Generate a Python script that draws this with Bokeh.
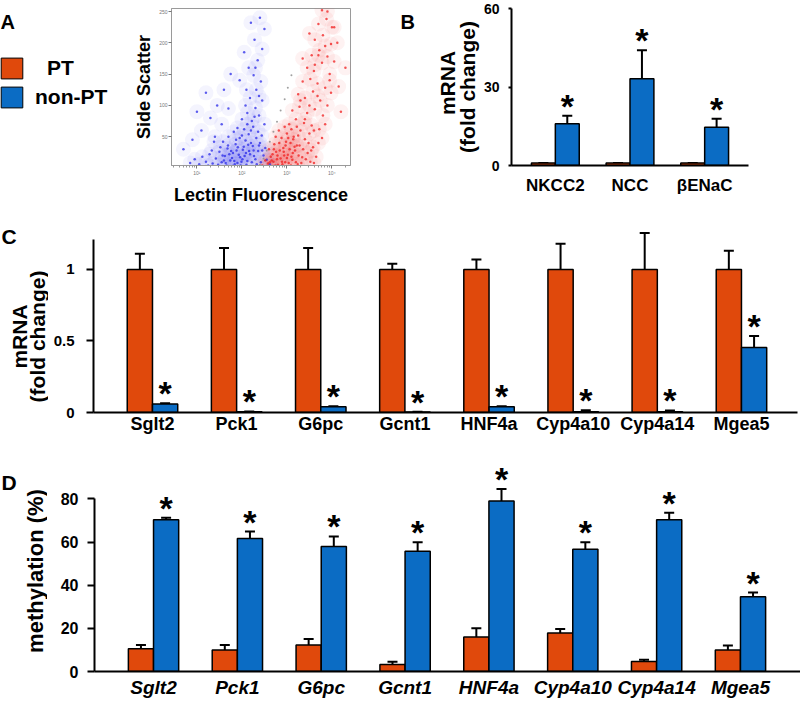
import numpy as np
from bokeh.plotting import figure
from bokeh.layouts import column, row
from bokeh.models import (ColumnDataSource, Range1d, FixedTicker, Label, Legend,
                          LegendItem, Whisker, TeeHead)
from bokeh.core.properties import value
from bokeh.embed import file_html
from bokeh.resources import INLINE

FONT = "Liberation Sans"
ORANGE = "#E0490C"
BLUE = "#0B6CC4"

# ---------------- data ----------------
legend_labels = ["PT", "non-PT"]
legend_proxy = [0]

# panel A: flow cytometry dot plot (log10 lectin fluorescence, side scatter x1000)
blue_log_fl = [0.85, 0.95, 1.05, 1.12, 1.2, 1.28, 1.35, 1.42, 1.5, 1.55, 1.62, 1.68, 1.74, 1.8,
               1.86, 1.9, 1.96, 2.02, 2.08, 2.12, 2.18, 2.24, 2.3, 2.36, 2.42, 2.48, 2.55, 2.62,
               1.7, 1.82, 1.95, 2.05, 2.15, 2.25, 2.32, 1.58, 2.4,
               2.0, 2.12, 2.22, 2.3, 2.38, 2.45, 2.18, 2.32, 2.42, 2.26, 2.5, 2.08,
               2.15, 2.35, 2.45, 2.28, 2.5, 2.05, 2.4, 2.2, 1.95,
               0.7, 0.9, 1.1, 1.3, 1.45, 1.6, 1.75, 1.2, 1.0, 1.55, 1.4, 1.7,
               1.33, 1.47, 1.52, 1.6, 1.66, 1.72, 1.78, 1.84, 1.88, 1.93, 1.99, 2.04, 2.1, 2.16,
               2.2, 2.27, 2.33, 2.38, 2.45, 2.52, 1.25, 1.38, 2.0, 2.12, 2.28, 2.2, 2.36, 1.9,
               2.44, 2.3, 2.38, 2.1,
               1.64, 1.76, 1.83, 1.91, 1.97, 2.06, 2.14, 2.22, 1.69, 1.87, 2.01, 2.09, 1.79,
               2.26, 1.57]
blue_ssc = [8, 14, 6, 18, 10, 22, 7, 15, 26, 9, 19, 31, 12, 24,
            38, 8, 17, 29, 44, 11, 22, 35, 14, 27, 9, 20, 13, 6,
            50, 58, 48, 62, 54, 66, 48, 42, 40,
            78, 88, 75, 96, 84, 108, 112, 125, 138, 148, 70, 100,
            160, 172, 190, 205, 222, 185, 240, 232, 140,
            30, 45, 60, 80, 100, 125, 150, 120, 90, 70, 50, 95,
            28, 5, 33, 12, 4, 22, 16, 6, 28, 21, 10, 34, 5, 27,
            40, 19, 6, 36, 28, 32, 4, 42, 52, 70, 82, 60, 58, 64,
            52, 160, 115, 125,
            8, 27, 11, 33, 4, 19, 37, 9, 36, 45, 14, 24, 3, 28, 20]
red_log_fl = [2.45, 2.52, 2.58, 2.64, 2.7, 2.76, 2.8, 2.86, 2.92, 2.96, 3.02, 3.08, 3.12, 3.18,
              3.24, 3.28, 3.34, 3.4, 3.46, 3.52, 3.58, 2.72, 2.88, 3.0, 3.15, 3.3, 3.5, 2.6,
              3.65, 3.7,
              3.05, 3.2, 3.38, 3.55, 3.72, 3.12, 3.28, 3.45, 3.62, 3.8, 3.25, 3.4, 3.58, 3.74,
              3.9, 3.35, 3.52, 3.68, 3.85, 3.98,
              3.45, 3.6, 3.78, 3.95, 3.55, 3.72, 3.9, 4.05, 3.62, 3.8, 3.98, 3.7, 3.88, 4.05,
              3.78, 3.5, 4.12, 3.35,
              4.15, 4.2, 4.3, 3.9,
              2.55, 2.62, 2.68, 2.74, 2.78, 2.84, 2.9, 2.94, 2.98, 3.04, 3.06, 3.1, 3.14, 3.2,
              3.22, 3.26, 3.32, 3.36, 3.42, 3.48, 3.54, 3.6, 2.82, 2.95, 3.1, 3.22, 3.4, 3.6,
              3.78, 3.85, 3.3, 3.5, 3.68, 3.95, 3.62, 3.85, 4.0, 3.7,
              2.66, 2.71, 2.79, 2.83, 2.89, 2.93, 3.0, 3.03, 3.09, 3.13, 2.75, 2.97, 3.17,
              2.69, 3.25]
red_ssc = [4, 12, 7, 18, 10, 26, 5, 15, 32, 9, 21, 40, 13, 28,
           6, 36, 17, 46, 24, 10, 33, 38, 48, 55, 50, 60, 55, 30,
           18, 40,
           70, 78, 72, 68, 62, 92, 98, 88, 94, 84, 118, 112, 122, 108,
           100, 138, 142, 135, 128, 120,
           160, 155, 168, 150, 180, 188, 178, 170, 205, 212, 198, 230, 238, 225,
           252, 215, 200, 175,
           130, 90, 160, 250,
           3, 9, 22, 4, 14, 28, 6, 20, 42, 8, 30, 18, 46, 9,
           36, 20, 8, 30, 14, 40, 28, 8, 60, 66, 62, 66, 78, 60,
           48, 70, 108, 100, 115, 140, 165, 195, 225, 180,
           12, 30, 20, 40, 10, 26, 16, 48, 4, 24, 50, 36, 34, 3, 52]
gate_log_fl = [2.4, 2.48, 2.55, 2.62, 2.7, 2.78, 2.86, 2.95, 3.02, 3.1]
gate_ssc = [5, 15, 28, 42, 58, 74, 92, 110, 128, 148]
fl_ticks = [10, 100, 1000, 10000]
fl_tick_labels = ["10\u00b9", "10\u00b2", "10\u00b3", "10\u2074"]
ssc_ticks = [50, 100, 150, 200, 250]
ssc_tick_labels = ["50", "100", "150", "200", "250"]

# panel B
genes_b = ["NKCC2", "NCC", "\u03b2ENaC"]
pt_b = [1.0, 1.0, 1.0]
pt_b_err = [0.0, 0.0, 0.0]
nonpt_b = [16.0, 33.2, 14.6]
nonpt_b_err = [3.0, 10.8, 3.3]
yticks_b = [0, 30, 60]

# panel C
genes = ["Sglt2", "Pck1", "G6pc", "Gcnt1", "HNF4a", "Cyp4a10", "Cyp4a14", "Mgea5"]
pt_c = [1.0, 1.0, 1.0, 1.0, 1.0, 1.0, 1.0, 1.0]
pt_c_err = [0.11, 0.15, 0.15, 0.04, 0.07, 0.18, 0.255, 0.13]
nonpt_c = [0.06, 0.005, 0.04, 0.004, 0.04, 0.006, 0.006, 0.455]
nonpt_c_err = [0.005, 0.002, 0.003, 0.002, 0.003, 0.01, 0.008, 0.08]
yticks_c = [0, 0.5, 1]
ytick_labels_c = ["0", "0.5", "1"]

# panel D
pt_d = [10.5, 10.0, 12.3, 3.3, 16.0, 17.8, 4.6, 10.0]
pt_d_err = [1.8, 2.3, 2.8, 1.2, 4.0, 1.9, 0.9, 2.0]
nonpt_d = [70.4, 61.7, 58.0, 55.8, 79.1, 56.7, 70.4, 34.7]
nonpt_d_err = [0.9, 3.2, 4.6, 4.1, 5.5, 3.2, 3.2, 1.9]
yticks_d = [0, 20, 40, 60, 80]

STAR = "*"

# frame borders (top, bottom) shared by every figure of a row
ROW1 = (8, 41)
ROW2 = (19, 28)
ROW3 = (22, 26)


def text_fig(width, height, borders):
    top, bottom = borders
    p = figure(width=width, height=height, x_range=Range1d(0, 1), y_range=Range1d(0, 1),
               x_axis_location=None, y_axis_location=None, min_border=0,
               min_border_top=top, min_border_bottom=bottom,
               output_backend="svg", toolbar_location=None)
    p.outline_line_color = None
    p.grid.visible = False
    return p


def add_label(p, text, sx, sy, size, angle=0, baseline="alphabetic", align="left"):
    p.add_layout(Label(x=sx, y=sy, x_units="screen", y_units="screen", text=text,
                       angle=angle, angle_units="deg",
                       text_font=FONT, text_font_style="bold", text_font_size=size,
                       text_baseline=baseline, text_align=align, text_color="black"))


def bar_panel(width, height, borders, xr, yr, ybounds, names, pt, pt_err, npt, npt_err,
              bw, yticks, ytick_labels, ytick_size, xlabel_size, xlabel_style,
              xlabel_standoff, tick_out, label_standoff, star_offset):
    left, right, top, bottom = borders
    p = figure(width=width, height=height, x_range=Range1d(*xr), y_range=Range1d(*yr),
               output_backend="svg", toolbar_location=None,
               min_border_left=left, min_border_right=right,
               min_border_top=top, min_border_bottom=bottom)
    idx = list(range(len(names)))
    x_pt = [i - bw / 2 for i in idx]
    x_np = [i + bw / 2 for i in idx]
    p.vbar(x=x_pt, top=pt, bottom=0, width=bw, fill_color=ORANGE, line_color="black", line_width=1.5)
    p.vbar(x=x_np, top=npt, bottom=0, width=bw, fill_color=BLUE, line_color="black", line_width=1.5)
    for xs, v, e in [(x_pt, pt, pt_err), (x_np, npt, npt_err)]:
        src = ColumnDataSource(dict(x=xs, lo=v, hi=[a + b for a, b in zip(v, e)]))
        p.add_layout(Whisker(source=src, base="x", lower="lo", upper="hi",
                             line_width=2, line_color="black",
                             upper_head=TeeHead(size=10, line_width=2, line_color="black"),
                             lower_head=None))
    hi_np = [a + b for a, b in zip(npt, npt_err)]
    p.text(x=x_np, y=hi_np, text=[STAR] * len(names), text_font=value(FONT),
           text_font_style="bold", text_font_size="34px", text_align="center",
           text_baseline="alphabetic", y_offset=star_offset, text_color="black")
    p.xgrid.visible = False
    p.ygrid.visible = False
    p.outline_line_color = None
    xa = p.xaxis[0]
    xa.ticker = FixedTicker(ticks=idx)
    xa.major_label_overrides = {i: n for i, n in zip(idx, names)}
    xa.major_tick_line_color = None
    xa.minor_tick_line_color = None
    xa.major_tick_out = 0
    xa.major_tick_in = 0
    xa.axis_line_width = 2
    xa.major_label_text_font = FONT
    xa.major_label_text_font_style = xlabel_style
    xa.major_label_text_font_size = xlabel_size
    xa.major_label_text_color = "black"
    xa.major_label_standoff = xlabel_standoff
    ya = p.yaxis[0]
    ya.ticker = FixedTicker(ticks=yticks)
    ya.major_label_overrides = {t: l for t, l in zip(yticks, ytick_labels)}
    ya.bounds = ybounds
    ya.minor_tick_line_color = None
    ya.major_tick_in = 0
    ya.major_tick_out = tick_out
    ya.major_tick_line_width = 2
    ya.axis_line_width = 2
    ya.major_label_text_font = FONT
    ya.major_label_text_font_style = "bold"
    ya.major_label_text_font_size = ytick_size
    ya.major_label_text_color = "black"
    ya.major_label_standoff = label_standoff
    return p


# ---------------- row 1: panel A ----------------
pa_left = text_fig(131, 207, ROW1)
r_pt = pa_left.vbar(x=legend_proxy, top=legend_proxy, width=0, fill_color=ORANGE,
                    line_color="black", line_width=1)
r_np = pa_left.vbar(x=legend_proxy, top=legend_proxy, width=0, fill_color=BLUE,
                    line_color="black", line_width=1)
for lab, rend, vy, standoff in [(legend_labels[0], r_pt, 83.6, 22),
                                (legend_labels[1], r_np, 54.6, 10)]:
    pa_left.add_layout(Legend(items=[LegendItem(label=lab, renderers=[rend])],
                              location=(-2, vy), glyph_width=27, glyph_height=26,
                              label_height=26, spacing=0, padding=0, margin=0,
                              label_standoff=standoff, label_text_font=FONT,
                              label_text_font_style="bold", label_text_font_size="21px",
                              label_text_color="black",
                              border_line_color=None, background_fill_alpha=0))
add_label(pa_left, "A", 0, 144, "20px")

pa = figure(width=269, height=207, x_axis_type="log",
            x_range=Range1d(10 ** 0.435, 10 ** 4.413), y_range=Range1d(3.97, 254.8),
            output_backend="svg", toolbar_location=None,
            min_border_left=35, min_border_right=50,
            min_border_top=ROW1[0], min_border_bottom=ROW1[1])
pa.xgrid.visible = False
pa.ygrid.visible = False
pa.outline_line_color = "#9a9a9a"
pa.outline_line_width = 1
blue_fl = np.power(10.0, blue_log_fl)
red_fl = np.power(10.0, red_log_fl)
gate_fl = np.power(10.0, gate_log_fl)
pa.scatter(blue_fl, blue_ssc, size=15, fill_color="#2a2ae8", fill_alpha=0.05, line_color=None)
pa.scatter(red_fl, red_ssc, size=15, fill_color="#f01e1e", fill_alpha=0.06, line_color=None)
pa.scatter(blue_fl, blue_ssc, size=2.5, fill_color="#2a2ae8", fill_alpha=0.75, line_color=None)
pa.scatter(red_fl, red_ssc, size=2.5, fill_color="#f01e1e", fill_alpha=0.75, line_color=None)
pa.scatter(gate_fl, gate_ssc, size=2, fill_color="#888888", fill_alpha=0.8, line_color=None)
xa = pa.xaxis[0]
xa.ticker = FixedTicker(ticks=fl_ticks,
                        minor_ticks=[m * d for d in [1, 10, 100, 1000, 10000] for m in range(2, 10)])
xa.major_label_overrides = {t: l for t, l in zip(fl_ticks, fl_tick_labels)}
ya = pa.yaxis[0]
ya.ticker = FixedTicker(ticks=ssc_ticks)
ya.major_label_overrides = {t: l for t, l in zip(ssc_ticks, ssc_tick_labels)}
for ax in (xa, ya):
    ax.axis_line_color = "#9a9a9a"
    ax.major_tick_line_color = "#777777"
    ax.minor_tick_line_color = "#999999"
    ax.major_tick_out = 3
    ax.major_tick_in = 0
    ax.minor_tick_out = 2
    ax.minor_tick_in = 0
    ax.major_label_text_font_size = "5px"
    ax.major_label_text_color = "#777777"
    ax.major_label_standoff = 1
    ax.axis_label_text_font = FONT
    ax.axis_label_text_font_style = "bold"
    ax.axis_label_text_font_size = "18px"
    ax.axis_label_text_color = "black"
ya.minor_tick_line_color = None
xa.axis_label = "Lectin Fluorescence"
xa.axis_label_standoff = 6
ya.axis_label = "Side Scatter"
ya.axis_label_standoff = 2

# ---------------- row 1: panel B ----------------
pb_left = text_fig(80, 207, ROW1)
add_label(pb_left, "B", 0, 144, "20px")
add_label(pb_left, "mRNA", 46.5, 82.5, "21px", angle=90, baseline="middle", align="center")
add_label(pb_left, "(fold change)", 66.5, 78.5, "21px", angle=90, baseline="middle", align="center")

pb = bar_panel(320, 207, (30, 52) + ROW1, (-0.587, 2.587), (0, 60), (0, 60),
               genes_b, pt_b, pt_b_err, nonpt_b, nonpt_b_err, 0.32,
               yticks_b, [str(t) for t in yticks_b], "14px",
               "17px", "bold", 10, 3, 9, -10)

# ---------------- row 2: panel C ----------------
pc_left = text_fig(48, 233, ROW2)
add_label(pc_left, "C", 1, 176, "21px")
add_label(pc_left, "mRNA", 18.5, 76, "21px", angle=90, baseline="middle", align="center")
add_label(pc_left, "(fold change)", 36.5, 76, "21px", angle=90, baseline="middle", align="center")

pc = bar_panel(752, 233, (45, 3) + ROW2, (-0.701, 7.666), (0, 1.30), (0, 1.21),
               genes, pt_c, pt_c_err, nonpt_c, nonpt_c_err, 0.30,
               yticks_c, ytick_labels_c, "15px",
               "18px", "bold", 1, 7, 12, -10)

# ---------------- row 3: panel D ----------------
pd_left = text_fig(47, 260, ROW3)
add_label(pd_left, "D", 1, 189, "21px")
add_label(pd_left, "methylation (%)", 34.5, 100.5, "22px", angle=90, baseline="middle", align="center")

pd_ = bar_panel(753, 260, (47, 0) + ROW3, (-0.704, 7.716), (0, 96.9), (0, 80),
                genes, pt_d, pt_d_err, nonpt_d, nonpt_d_err, 0.30,
                yticks_d, [str(t) for t in yticks_d], "16px",
                "19px", "bold italic", 5, 7, 9, -10)

layout = column(row(pa_left, pa, pb_left, pb), row(pc_left, pc), row(pd_left, pd_))
open("out.html", "w").write(file_html(layout, INLINE))
